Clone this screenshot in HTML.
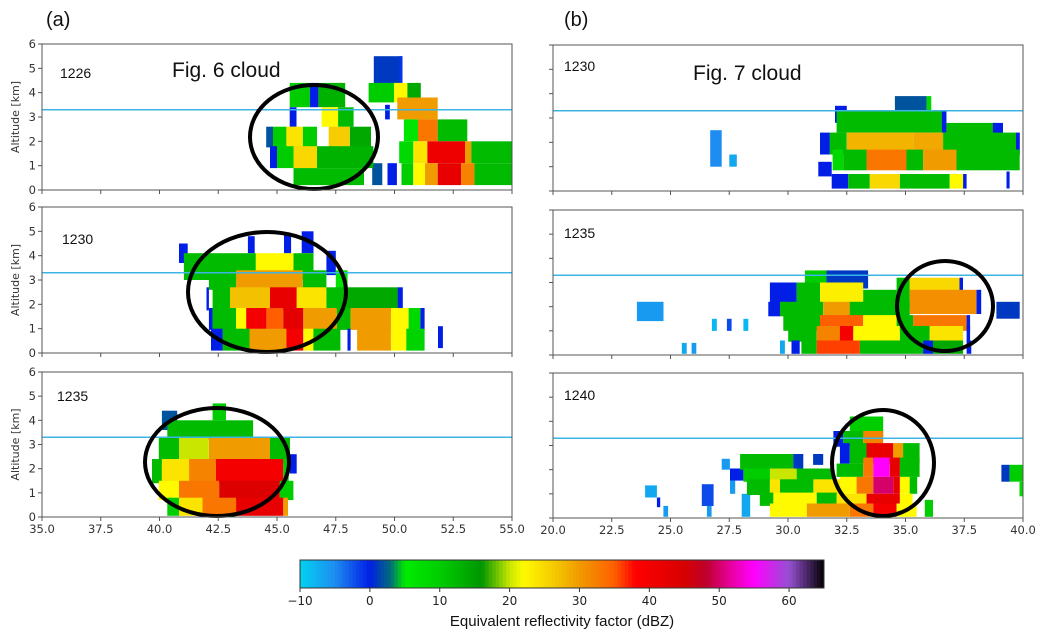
<!DOCTYPE html>
<html><head><meta charset="utf-8">
<style>
html,body{margin:0;padding:0;background:#fff;}
svg{display:block;font-family:"DejaVu Sans","Liberation Sans",sans-serif;}
</style></head>
<body>
<svg id="fig" width="1046" height="638" viewBox="0 0 1046 638" xmlns="http://www.w3.org/2000/svg">
<g id="content"></g>
</svg>
<script>
// Panel cells: [xStart, xEnd, zBottom, zTop, dBZ]
const cellsA1 = [
 [49.12,50.34,4.4,5.5,1],[50.2,50.34,4.4,5.5,-1],
 [48.9,49.98,3.6,4.4,10],[49.98,50.55,3.6,4.4,22],[50.55,51.12,3.6,4.4,14],
 [49.6,49.8,2.9,3.5,0],[50.12,51.84,2.9,3.8,30],
 [50.4,51.0,2.0,2.9,6],[51.0,51.84,2.0,2.9,33],[51.84,53.1,2.0,2.9,12],
 [50.2,50.8,1.1,2.0,8],[50.8,51.4,1.1,2.0,24],[51.4,53.0,1.1,2.0,41],[53.0,53.27,1.1,2.0,30],[53.27,55,1.1,2.0,12],
 [49.05,49.48,0.2,1.1,2],[49.7,50.1,0.2,1.1,0],[50.3,50.8,0.2,1.1,10],[50.8,51.3,0.2,1.1,22],[51.3,51.84,0.2,1.1,30],[51.84,52.84,0.2,1.1,42],[52.84,53.4,0.2,1.1,32],[53.4,55,0.2,1.1,12],
 [45.54,46.4,3.4,4.4,10],[46.4,46.76,3.4,4.4,0],[46.76,47.9,3.4,4.4,13],
 [45.54,45.83,2.6,3.4,0],[46.9,47.6,2.6,3.4,22],[47.6,48.26,2.6,3.4,12],
 [44.54,44.83,1.75,2.6,2],[44.83,45.4,1.75,2.6,10],[45.4,46.1,1.75,2.6,24],[46.1,46.7,1.75,2.6,10],[47.2,48.1,1.75,2.6,26],[48.1,49.0,1.75,2.6,14],
 [44.7,45.0,0.9,1.8,0],[45.0,45.7,0.9,1.8,10],[45.7,46.7,0.9,1.8,25],[46.7,49.1,0.9,1.8,13],
 [45.7,48.7,0.2,0.9,12]
];
const cellsA2 = [
 [46.05,46.55,4.1,5.0,0],[43.76,44.05,4.1,4.8,0],[45.3,45.6,4.1,4.9,0],[40.83,41.2,3.7,4.5,0],
 [41.04,44.1,3.0,4.1,12],[44.1,45.7,3.0,4.1,22],[45.7,46.55,3.0,4.1,12],[47.1,47.5,3.2,4.2,0],
 [42.1,43.26,2.6,3.4,12],[43.26,46.1,2.6,3.4,30],[46.1,47.1,2.6,3.4,12],[47.5,48.0,2.6,3.4,6],
 [42.0,42.1,1.75,2.7,0],[42.26,43.0,1.75,2.7,12],[43.0,44.7,1.75,2.7,27],[44.7,45.84,1.75,2.7,42],[45.84,47.1,1.75,2.7,24],[47.1,48.0,1.75,2.7,12],[48.0,50.13,1.75,2.7,14],[50.13,50.35,1.75,2.7,0],
 [42.1,42.26,0.95,1.85,0],[42.26,43.26,0.95,1.85,12],[43.26,43.69,0.95,1.85,22],[43.69,44.55,0.95,1.85,40],[44.55,45.27,0.95,1.85,35],[45.27,46.12,0.95,1.85,43],[46.12,47.55,0.95,1.85,30],[47.55,48.13,0.95,1.85,12],[48.13,49.85,0.95,1.85,30],[49.85,50.6,0.95,1.85,22],[50.6,51.1,0.95,1.85,8],[51.1,51.28,0.95,1.85,0],
 [42.19,42.69,0.1,1.0,0],[42.69,43.83,0.1,1.0,12],[43.83,45.4,0.1,1.0,30],[45.4,46.12,0.1,1.0,40],[46.12,46.55,0.1,1.0,22],[46.55,47.7,0.1,1.0,12],[48.0,48.13,0.1,1.0,0],[48.41,49.85,0.1,1.0,30],[49.85,50.5,0.1,1.0,22],[50.5,51.28,0.1,1.0,9],[51.85,52.06,0.2,1.1,0]
];
const cellsA3 = [
 [42.26,42.83,4.0,4.7,10],[40.1,40.75,3.6,4.4,2],
 [40.33,43.98,3.2,4.0,12],
 [39.97,40.83,2.2,3.3,12],[40.83,42.1,2.2,3.3,20],[42.1,44.7,2.2,3.3,30],[44.7,45.55,2.2,3.3,12],[45.55,45.84,1.8,2.6,0],
 [39.68,40.1,1.4,2.4,12],[40.1,41.26,1.4,2.4,24],[41.26,42.4,1.4,2.4,32],[42.4,45.27,1.4,2.4,40],[45.27,45.5,1.4,2.4,10],
 [39.97,40.83,0.7,1.5,22],[40.83,42.54,0.7,1.5,33],[42.54,45.12,0.7,1.5,44],[45.12,45.7,0.7,1.5,10],
 [40.33,40.83,0.05,0.8,10],[40.83,41.83,0.05,0.8,24],[41.83,43.26,0.05,0.8,33],[43.26,45.27,0.05,0.8,42],[45.27,45.47,0.05,0.8,30]
];
const cellsB1 = [
 [26.69,27.18,1.0,2.5,-5],[27.5,27.82,1.0,1.5,-7],
 [34.55,35.9,3.2,3.9,2],[35.9,36.1,3.3,3.9,8],[32.0,32.5,2.8,3.5,0],
 [32.07,36.74,2.4,3.3,12],[36.55,36.74,2.4,3.3,0],
 [36.74,38.87,2.2,2.8,12],[38.72,39.15,2.2,2.8,0],
 [31.36,31.78,1.5,2.4,0],[31.78,32.5,1.5,2.4,12],[32.5,35.33,1.5,2.4,28],[35.33,36.6,1.5,2.4,29],[36.6,39.7,1.5,2.4,12],[39.7,39.86,1.5,2.4,0],
 [31.9,32.35,0.85,1.7,8],[32.35,33.34,0.85,1.7,12],[33.34,35.04,0.85,1.7,33],[35.04,35.75,0.85,1.7,12],[35.75,37.17,0.85,1.7,30],[37.17,39.86,0.85,1.7,12],
 [31.29,31.86,0.6,1.2,0],
 [31.86,32.56,0.1,0.7,0],[32.56,33.48,0.1,0.7,12],[33.48,34.76,0.1,0.7,25],[34.76,36.88,0.1,0.7,12],[36.88,37.45,0.1,0.7,22],[37.45,37.6,0.1,0.7,0],[39.3,39.43,0.1,0.8,0]
];
const cellsB2 = [
 [23.57,24.7,1.4,2.2,-6],[26.76,26.97,1.0,1.5,-8],[27.4,27.6,1.0,1.5,-2],[28.1,28.31,1.0,1.5,-8],[25.48,25.69,0.05,0.5,-7],[25.9,26.1,0.05,0.5,-6],[29.66,29.87,0.05,0.6,-7],
 [30.72,31.64,2.75,3.5,10],[31.64,33.41,2.75,3.5,1],
 [29.23,30.37,2.0,3.0,0],[30.37,31.36,2.0,3.0,12],[31.36,33.2,2.0,3.0,23],[33.2,34.62,2.0,2.7,12],[34.62,35.18,2.0,3.2,12],[35.18,37.3,2.55,3.2,25],[37.3,37.45,2.55,3.2,0],
 [35.18,38.02,1.7,2.7,31],[38.02,38.22,1.7,2.7,0],
 [29.16,29.66,1.6,2.2,0],[29.66,31.5,1.6,2.2,12],[31.5,32.63,1.6,2.2,30],[32.63,35.18,1.6,2.2,12],[38.87,39.86,1.5,2.2,1],
 [29.8,31.36,1.0,1.65,12],[31.36,33.2,1.0,1.65,35],[33.2,34.62,1.0,1.65,22],[34.62,35.33,1.0,1.65,12],[35.33,37.6,1.0,1.65,33],[37.6,37.75,1.0,1.65,0],
 [30.01,31.22,0.55,1.2,12],[31.22,32.21,0.55,1.2,32],[32.21,32.78,0.55,1.2,40],[32.78,34.76,0.55,1.2,22],[34.76,36.03,0.55,1.2,12],[36.03,37.45,0.55,1.2,24],[37.6,37.75,0.55,1.2,0],
 [30.15,30.5,0.05,0.6,0],[30.57,31.22,0.05,0.6,12],[31.22,33.06,0.05,0.6,36],[33.06,35.75,0.05,0.6,12],[35.75,36.17,0.05,0.6,0],[36.17,37.45,0.05,0.6,14],[37.6,37.8,0.05,0.6,0]
];
const cellsB3 = [
 [23.92,24.42,0.85,1.35,-7],[24.42,24.56,0.45,0.85,0],[24.7,24.9,0.05,0.5,-6],[26.33,26.83,0.5,1.4,-2],[26.55,26.75,0.05,0.5,-6],
 [27.18,27.53,2.0,2.45,-6],[27.53,28.1,1.55,2.05,0],[27.53,27.75,1.0,1.55,-6],[28.03,28.39,0.05,1.0,-7],
 [27.96,30.22,2.0,2.65,12],[30.22,30.65,2.0,2.65,1],[31.07,31.5,2.2,2.65,1],
 [28.1,29.23,1.5,2.05,10],[29.23,30.37,1.5,2.05,20],[30.37,31.93,1.5,2.05,12],
 [28.25,29.23,0.95,1.6,12],[29.23,29.66,0.95,1.6,24],[29.66,31.08,0.95,1.6,12],[31.08,32.21,0.95,1.6,24],
 [28.8,29.38,0.5,1.05,12],[29.38,31.22,0.5,1.05,22],[31.22,32.07,0.5,1.05,12],
 [29.23,30.8,0.05,0.6,22],[30.8,32.63,0.05,0.6,30],[32.63,33.63,0.05,0.6,33],[33.63,34.62,0.05,0.6,40],[34.62,35.47,0.05,0.6,22],[35.82,36.17,0.05,0.75,10],
 [32.63,34.05,3.35,4.2,10],
 [31.93,32.35,2.95,3.6,0],[32.35,33.2,2.95,3.6,12],[33.2,34.05,2.95,3.6,32],
 [32.21,32.63,2.25,3.1,0],[32.63,33.34,2.25,3.1,12],[33.34,34.48,2.25,3.1,42],[34.48,34.9,2.25,3.1,30],[34.9,35.6,2.25,3.1,12],
 [32.07,33.2,1.7,2.25,12],[33.2,33.63,1.7,2.5,33],[33.63,34.33,1.7,2.5,55],[34.33,34.76,1.7,2.5,42],[34.76,35.6,1.7,2.5,12],
 [32.21,32.92,1.0,1.7,22],[32.92,33.63,1.0,1.7,33],[33.63,34.48,1.0,1.7,50],[34.48,34.76,1.0,1.7,42],[34.76,35.18,1.0,1.7,22],[35.18,35.5,1.0,1.7,12],
 [32.07,33.34,0.6,1.0,24],[33.34,34.76,0.6,1.0,42],[34.76,35.3,0.6,1.0,22],
 [39.08,39.43,1.5,2.2,1],[39.43,40,1.5,2.2,10],[39.85,40,0.9,1.5,8]
];
const xTicksA = [35.0,37.5,40.0,42.5,45.0,47.5,50.0,52.5,55.0];
const xTicksB = [20.0,22.5,25.0,27.5,30.0,32.5,35.0,37.5,40.0];
const yTicks = [0,1,2,3,4,5,6];
const cbTicks = [-10,0,10,20,30,40,50,60];
const meltingLevel = 3.3;

// colormap stops [dBZ, r,g,b]
const cmap = [[-10,0,210,240],[-5,30,140,240],[0,0,30,230],[3,0,110,120],[5,0,235,0],[10,0,205,0],[16,0,150,0],[20,200,230,0],[22,255,250,0],[26,245,205,0],[30,240,155,0],[35,255,95,0],[38,255,0,0],[45,215,0,0],[48,190,0,40],[52,235,0,170],[55,255,0,255],[60,150,80,210],[65,0,0,0]];
function col(v){
  if(v<=cmap[0][0]) return `rgb(${cmap[0][1]},${cmap[0][2]},${cmap[0][3]})`;
  for(let i=1;i<cmap.length;i++){
    if(v<=cmap[i][0]){const a=cmap[i-1],b=cmap[i],t=(v-a[0])/(b[0]-a[0]);
      return `rgb(${Math.round(a[1]+t*(b[1]-a[1]))},${Math.round(a[2]+t*(b[2]-a[2]))},${Math.round(a[3]+t*(b[3]-a[3]))})`;}
  }
  const l=cmap[cmap.length-1];return `rgb(${l[1]},${l[2]},${l[3]})`;
}
const NS="http://www.w3.org/2000/svg";
const root=document.getElementById('content');
function mk(tag,attrs,parent){const e=document.createElementNS(NS,tag);for(const k in attrs)e.setAttribute(k,attrs[k]);(parent||root).appendChild(e);return e;}

const panels=[
 {id:'a-1226',cells:cellsA1,x0:35,x1:55,L:42,R:512,T:44,B:190,label:'1226',lx:60,ly:78,ticks:xTicksA,ylab:true,xlab:false,ell:[314,137,64,52]},
 {id:'a-1230',cells:cellsA2,x0:35,x1:55,L:42,R:512,T:207,B:353,label:'1230',lx:62,ly:244,ticks:xTicksA,ylab:true,xlab:false,ell:[267,292,79,60]},
 {id:'a-1235',cells:cellsA3,x0:35,x1:55,L:42,R:512,T:372,B:517,label:'1235',lx:57,ly:401,ticks:xTicksA,ylab:true,xlab:true,ell:[217,462,72,54]},
 {id:'b-1230',cells:cellsB1,x0:20,x1:40,L:553,R:1023,T:45,B:191,label:'1230',lx:564,ly:71,ticks:xTicksB,ylab:false,xlab:false,ell:null},
 {id:'b-1235',cells:cellsB2,x0:20,x1:40,L:553,R:1023,T:210,B:355,label:'1235',lx:564,ly:238,ticks:xTicksB,ylab:false,xlab:false,ell:[945,306,48,45]},
 {id:'b-1240',cells:cellsB3,x0:20,x1:40,L:553,R:1023,T:373,B:518,label:'1240',lx:564,ly:400,ticks:xTicksB,ylab:false,xlab:true,ell:[883,463,51,53]}
];
panels.forEach(p=>{
  const g=mk('g',{});
  
  
  const sx=v=>p.L+(v-p.x0)/(p.x1-p.x0)*(p.R-p.L);
  const sz=v=>p.B-v/6*(p.B-p.T);
  p.cells.forEach(c=>{
    const r=mk('rect',{x:sx(c[0]).toFixed(1),y:sz(c[3]).toFixed(1),width:(sx(c[1])-sx(c[0])).toFixed(1),height:(sz(c[2])-sz(c[3])).toFixed(1),fill:col(c[4])},g);
    
    
  });
  const ml=mk('line',{x1:p.L,x2:p.R,y1:sz(meltingLevel),y2:sz(meltingLevel),stroke:'#3cb4e6','stroke-width':1.5},g);
  
  
  if(p.ell){const e=mk('ellipse',{cx:p.ell[0],cy:p.ell[1],rx:p.ell[2],ry:p.ell[3],fill:'none',stroke:'#000','stroke-width':4},g);
    
    }
  const fr=mk('rect',{x:p.L,y:p.T,width:p.R-p.L,height:p.B-p.T,fill:'none',stroke:'#555','stroke-width':1},g);
  
  
  yTicks.forEach(t=>{
    mk('line',{x1:p.L-4,x2:p.L,y1:sz(t),y2:sz(t),stroke:'#555'},g);
    if(p.ylab){const tx=mk('text',{x:p.L-6,y:sz(t)+4,'text-anchor':'end','font-size':11.5,fill:'#333'},g);tx.textContent=t;
      
      }
  });
  p.ticks.forEach(t=>{
    mk('line',{x1:sx(t),x2:sx(t),y1:p.B,y2:p.B+4,stroke:'#555'},g);
    if(p.xlab){const tx=mk('text',{x:sx(t),y:p.B+16,'text-anchor':'middle','font-size':11.5,fill:'#333'},g);tx.textContent=t.toFixed(1);
      
      }
  });
  if(p.ylab){const yl=mk('text',{x:0,y:0,transform:`translate(19,${(p.T+p.B)/2}) rotate(-90)`,'text-anchor':'middle','font-size':11,fill:'#333'},g);yl.textContent='Altitude [km]';
    
    }
  const lb=mk('text',{x:p.lx,y:p.ly,'font-size':14,fill:'#111','font-family':'Liberation Sans, sans-serif'},g);lb.textContent=p.label;
  
  
});
// annotations
[['(a)',46,26,'panel-a-label',20],['(b)',564,26,'panel-b-label',20],['Fig. 6 cloud',172,77,'fig6-annotation',21],['Fig. 7 cloud',693,80,'fig7-annotation',21]].forEach(a=>{
  const t=mk('text',{x:a[1],y:a[2],'font-size':a[4],fill:'#111','font-family':'Liberation Sans, sans-serif'});t.textContent=a[0];
  
  
});
// colorbar
const cbL=300,cbR=824,cbT=560,cbB=588,cbMin=-10,cbMax=65;
const cb=mk('g',{});


const cx=v=>cbL+(v-cbMin)/(cbMax-cbMin)*(cbR-cbL);
for(let v=cbMin;v<cbMax;v+=0.5){mk('rect',{x:cx(v).toFixed(2),y:cbT,width:((cbR-cbL)/150+0.4).toFixed(2),height:cbB-cbT,fill:col(v+0.25)},cb);}
mk('rect',{x:cbL,y:cbT,width:cbR-cbL,height:cbB-cbT,fill:'none',stroke:'#333'},cb);
cbTicks.forEach(t=>{
  mk('line',{x1:cx(t),x2:cx(t),y1:cbB,y2:cbB+4,stroke:'#333'},cb);
  const tx=mk('text',{x:cx(t),y:cbB+17,'text-anchor':'middle','font-size':12,fill:'#222'},cb);tx.textContent=t<0?'\u2212'+(-t):t;
  
  
});
const ct=mk('text',{x:(cbL+cbR)/2,y:626,'text-anchor':'middle','font-size':15,fill:'#111','font-family':'Liberation Sans, sans-serif'},cb);ct.textContent='Equivalent reflectivity factor (dBZ)';


</script>
</body></html>
